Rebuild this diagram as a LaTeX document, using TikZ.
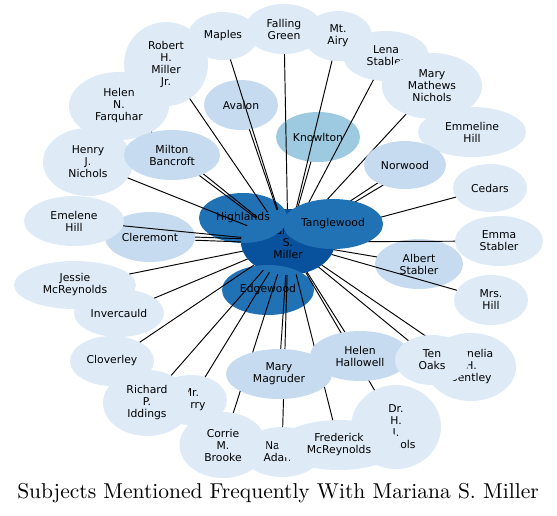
\documentclass[tikz,border=0pt]{standalone}
\usepackage{fontspec}
\newfontfamily\nodefont{DejaVu Sans}
\usetikzlibrary{shapes.geometric}
\definecolor{cL}{HTML}{DEEBF7}
\definecolor{cM}{HTML}{C6DBEF}
\definecolor{cK}{HTML}{9ECAE1}
\definecolor{cD}{HTML}{2171B5}
\definecolor{cDD}{HTML}{08519C}
\pgfdeclarelayer{links}
\pgfdeclarelayer{top}
\pgfsetlayers{main,links,top}
\begin{document}
\begin{tikzpicture}[x=1pt,y=-1pt,
  nd/.style={ellipse, draw=none, inner sep=0pt, outer sep=0pt, align=center,
    font=\nodefont\fontsize{10.8}{12}\selectfont, text=black},
  sz/.style 2 args={minimum width=2*#1pt, minimum height=2*#2pt},
  lt/.style={nd, fill=cL}, md/.style={nd, fill=cM}, kn/.style={nd, fill=cK},
  dk/.style={nd, fill=cD}, dd/.style={nd, fill=cDD},
  link/.style={draw=black, line width=0.95pt}]
\useasboundingbox (0,0) rectangle (557,515);
% centre group
\node[dd, sz={47}{33}] (miller) at (288,242) {Mariana\\S.\\Miller};
\node[dk, sz={44}{25}] (highlands) at (243,218) {Highlands};
\node[dk, sz={46}{25}] (edgewood) at (268,290) {Edgewood};
% outer nodes beneath the connectors
\node[lt, sz={35}{24}] (maples) at (223,36) {Maples};
\node[lt, sz={39}{25}] (falling) at (284,29) {Falling\\Green};
\node[lt, sz={34}{25}] (mtairy) at (338,36) {Mt.\\Airy};
\node[lt, sz={43}{25}] (lena) at (386,56) {Lena\\Stabler};
\node[lt, sz={50}{33}] (mmn) at (432,86) {Mary\\Mathews\\Nichols};
\node[lt, sz={54}{25}] (emmeline) at (472,132) {Emmeline\\Hill};
\node[kn, sz={42}{25}] (knowlton) at (318,137) {Knowlton};
\node[lt, sz={37}{24}] (cedars) at (490,188) {Cedars};
\node[lt, sz={44}{25}] (emma) at (499,241) {Emma\\Stabler};
\node[md, sz={44}{25}] (albert) at (419,264) {Albert\\Stabler};
\node[lt, sz={37}{25}] (mrshill) at (491,300) {Mrs.\\Hill};
\node[lt, sz={45}{34}] (cornelia) at (471,367) {Cornelia\\H.\\Bentley};
\node[lt, sz={45}{42}] (drnichols) at (396,427) {Dr.\\H.\\J.\\Nichols};
\node[lt, sz={40}{25}] (nancy) at (282,452) {Nancy\\Adams};
\node[lt, sz={61}{25}] (frederick) at (339,445) {Frederick\\McReynolds};
\node[lt, sz={43.5}{33}] (corrie) at (223,445) {Corrie\\M.\\Brooke};
\node[lt, sz={36}{25}] (mrberry) at (191,400) {Mr.\\Berry};
\node[lt, sz={44}{33}] (richard) at (147,403) {Richard\\P.\\Iddings};
\node[lt, sz={42}{25}] (cloverley) at (112,361) {Cloverley};
\node[lt, sz={45}{24}] (invercauld) at (119,313) {Invercauld};
\node[lt, sz={61}{24}] (jessie) at (75,285) {Jessie\\McReynolds};
\node[md, sz={45}{25}] (cleremont) at (150,237) {Cleremont};
\node[lt, sz={50}{25}] (emelene) at (74,221) {Emelene\\Hill};
\node[lt, sz={45}{34}] (henry) at (88,162) {Henry\\J.\\Nichols};
\node[lt, sz={50}{34}] (farquhar) at (119,106) {Helen\\N.\\Farquhar};
\node[lt, sz={42}{42}] (robert) at (166,64) {Robert\\H.\\Miller\\Jr.};
\node[md, sz={37}{25}] (avalon) at (241,105) {Avalon};
% nodes lying above the connectors
\begin{pgfonlayer}{top}
\node[dk, sz={50}{25}] (tanglewood) at (333,224) {Tanglewood};
\node[md, sz={48}{25}] (milton) at (172,155) {Milton\\Bancroft};
\node[md, sz={41}{24}] (norwood) at (405,165) {Norwood};
\node[md, sz={50}{25}] (hallowell) at (360,356) {Helen\\Hallowell};
\node[md, sz={53}{25}] (magruder) at (279,374) {Mary\\Magruder};
\node[lt, sz={37}{25}] (tenoaks) at (432,360) {Ten\\Oaks};
\end{pgfonlayer}
% connectors
\begin{pgfonlayer}{links}
\foreach \t in {maples,falling,mtairy,lena,mmn,emmeline,knowlton,cedars,emma,
  albert,mrshill,cornelia,drnichols,nancy,frederick,corrie,mrberry,richard,
  cloverley,jessie,invercauld,emelene,henry,farquhar,robert,avalon,
  milton,norwood,hallowell,magruder,tenoaks}
  {\draw[link] (miller) -- (\t);}
\draw[link, transform canvas={yshift=1.6pt}] (miller) -- (cleremont);
\draw[link, transform canvas={yshift=-1.6pt}] (miller) -- (cleremont);
\end{pgfonlayer}
\node[inner sep=0pt] (title) at (278,493)
  {\scalebox{2.15}{\fontsize{10}{12}\selectfont Subjects Mentioned Frequently With Mariana S. Miller}};
\end{tikzpicture}
\end{document}
